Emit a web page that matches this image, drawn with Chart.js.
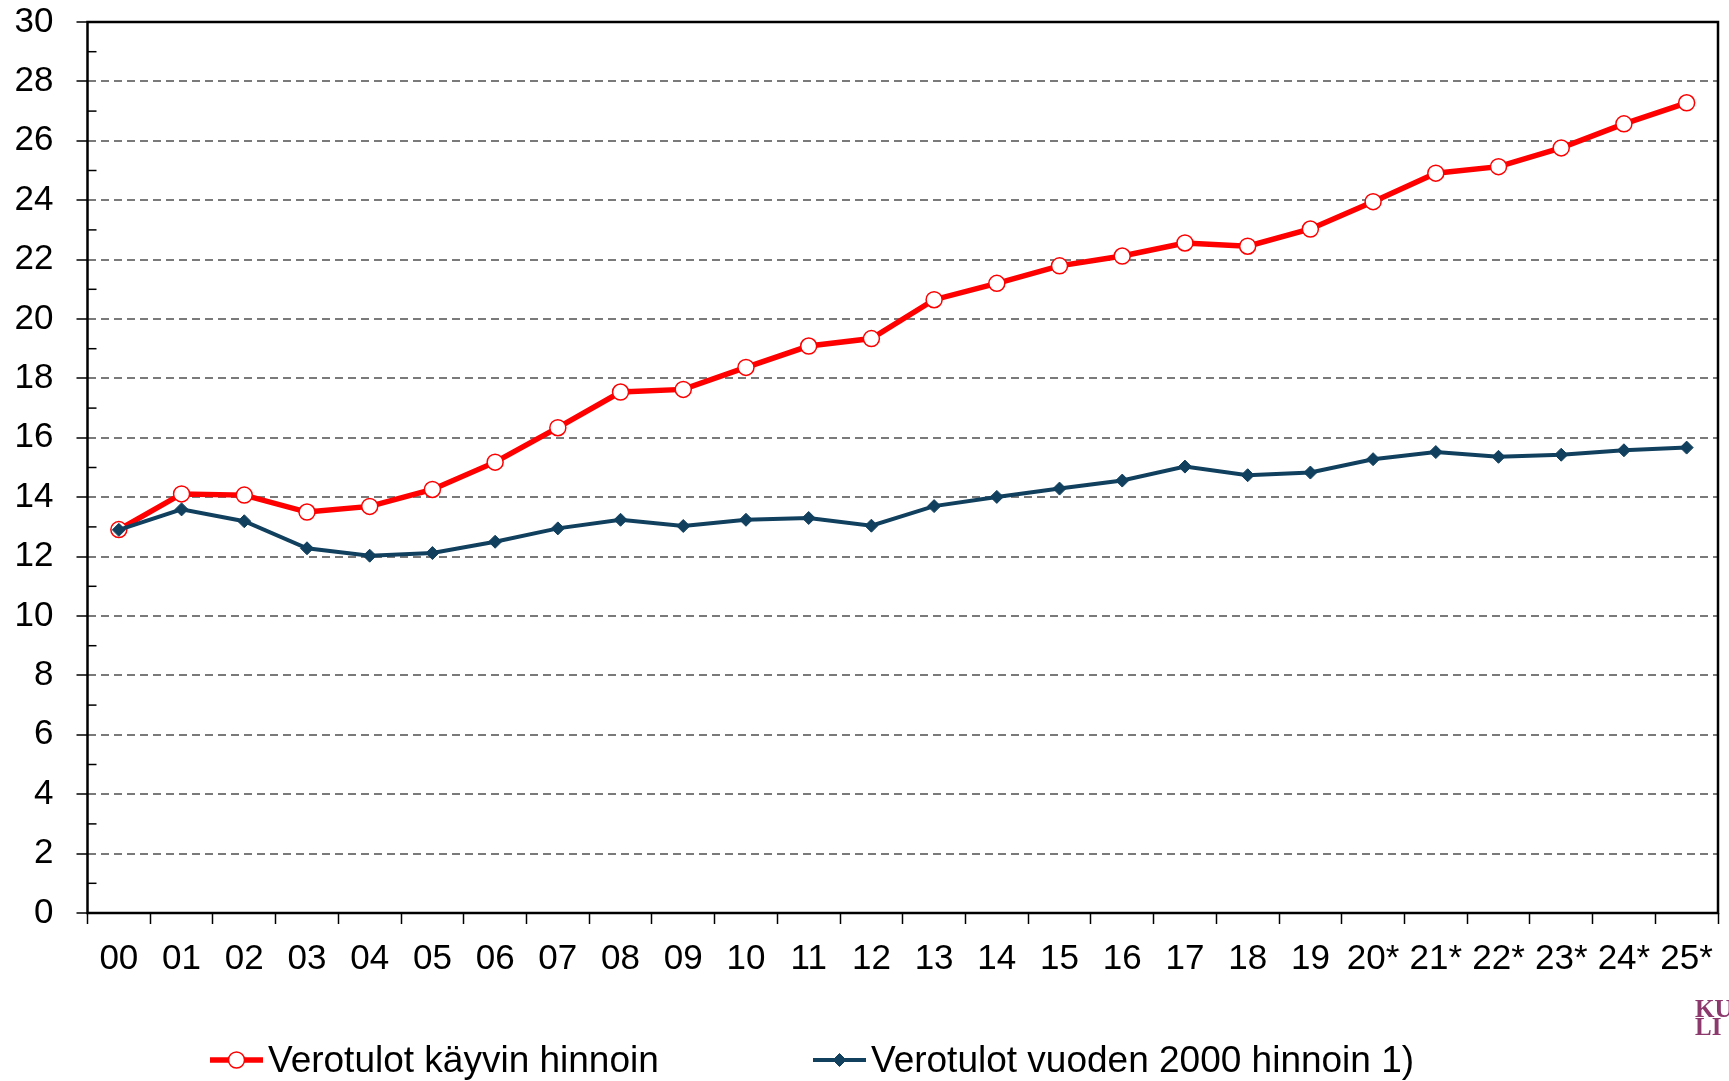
<!DOCTYPE html>
<html><head><meta charset="utf-8">
<script src="https://cdn.jsdelivr.net/npm/chart.js@4"></script>
<style>html,body{margin:0;padding:0;background:#fff;overflow:hidden}canvas{display:block}</style>
</head><body>
<canvas id="c" width="1729" height="1081"></canvas>
<script>
const categories = ['00','01','02','03','04','05','06','07','08','09','10','11','12','13','14','15','16','17','18','19','20*','21*','22*','23*','24*','25*'];
const currentPrices = [12.91, 14.11, 14.07, 13.50, 13.69, 14.26, 15.18, 16.34, 17.54, 17.63, 18.37, 19.09, 19.34, 20.65, 21.20, 21.79, 22.12, 22.56, 22.45, 23.03, 23.95, 24.91, 25.13, 25.76, 26.57, 27.28];
const prices2000 = [12.90, 13.59, 13.19, 12.28, 12.03, 12.12, 12.50, 12.95, 13.24, 13.03, 13.24, 13.30, 13.04, 13.70, 14.01, 14.29, 14.56, 15.03, 14.74, 14.83, 15.28, 15.52, 15.36, 15.43, 15.58, 15.67];
const seriesLabels = ['Verotulot käyvin hinnoin', 'Verotulot vuoden 2000 hinnoin 1)'];
const yMin = 0, yMax = 30, yStep = 2;
const logoLines = ['KU', 'LI'];

const RED = '#ff0000', BLUE = '#11405f', FONT = '"Liberation Sans", Arial, sans-serif';

const extras = {
  id: 'extras',
  beforeDatasetsDraw(chart) {
    const {ctx, chartArea: a, scales: {y}} = chart;
    ctx.save();
    ctx.strokeStyle = '#000';
    ctx.lineWidth = 1.5;
    for (let v = yMin + 1; v < yMax; v += 2) {
      const py = y.getPixelForValue(v);
      ctx.beginPath(); ctx.moveTo(a.left, py); ctx.lineTo(a.left + 9, py); ctx.stroke();
    }
    ctx.lineWidth = 2.5;
    ctx.strokeRect(a.left, a.top, a.right - a.left, a.bottom - a.top);
    ctx.restore();
  },
  afterDraw(chart) {
    const {ctx} = chart;
    const items = [
      {label: seriesLabels[0], color: RED, lw: 5.5, x0: 210, x1: 263, style: 'circle', r: 8, bg: '#fff', bw: 1.5},
      {label: seriesLabels[1], color: BLUE, lw: 4, x0: 813, x1: 866, style: 'rectRot', r: 6.5, bg: BLUE, bw: 1}
    ];
    const ly = 1060;
    ctx.save();
    items.forEach(it => {
      ctx.strokeStyle = it.color; ctx.lineWidth = it.lw;
      ctx.beginPath(); ctx.moveTo(it.x0, ly); ctx.lineTo(it.x1, ly); ctx.stroke();
      ctx.fillStyle = it.bg; ctx.strokeStyle = it.color; ctx.lineWidth = it.bw;
      Chart.helpers.drawPoint(ctx, {pointStyle: it.style, radius: it.r, borderWidth: it.bw}, (it.x0 + it.x1) / 2, ly);
      ctx.fillStyle = '#000';
      ctx.font = '37px ' + FONT;
      ctx.textBaseline = 'alphabetic';
      ctx.textAlign = 'left';
      ctx.fillText(it.label, it.x1 + 5, 1071.5);
    });
    ctx.fillStyle = '#8c3a6e';
    ctx.font = 'bold 25px "Liberation Serif", "DejaVu Serif", serif';
    ctx.fillText(logoLines[0], 1695, 1016.5);
    ctx.fillText(logoLines[1], 1695, 1035);
    ctx.restore();
  }
};

new Chart(document.getElementById('c'), {
  type: 'line',
  data: {
    labels: categories,
    datasets: [
      {label: seriesLabels[0], data: currentPrices, order: 1, borderColor: RED, borderWidth: 5.5,
       pointRadius: 8, pointHoverRadius: 8, pointBackgroundColor: '#fff', pointBorderColor: RED, pointBorderWidth: 1.5, tension: 0},
      {label: seriesLabels[1], data: prices2000, order: 0, borderColor: BLUE, borderWidth: 4,
       pointStyle: 'rectRot', pointRadius: 6.5, pointHoverRadius: 6.5, pointBackgroundColor: BLUE, pointBorderColor: BLUE, pointBorderWidth: 1, tension: 0}
    ]
  },
  options: {
    responsive: false, animation: false, devicePixelRatio: 1,
    layout: {padding: {top: 22, right: 11, left: 0, bottom: 0}},
    plugins: {legend: {display: false}, tooltip: {enabled: false}},
    scales: {
      x: {
        offset: true,
        grid: {offset: true, drawOnChartArea: false, drawTicks: true, tickLength: 11, tickColor: '#000', tickWidth: 1.5},
        border: {display: false},
        ticks: {color: '#000', font: {family: FONT, size: 35}, padding: 14, maxRotation: 0, autoSkip: false},
        afterFit(s) { s.height = 168; s.paddingLeft = 0; s.paddingRight = 0; }
      },
      y: {
        min: yMin, max: yMax,
        grid: {
          color: c => (c.tick && (c.tick.value === yMin || c.tick.value === yMax)) ? 'rgba(0,0,0,0)' : '#7a7a7a',
          lineWidth: 2, drawTicks: true, tickLength: 11, tickColor: '#000', tickWidth: 1.5, tickBorderDash: []
        },
        border: {display: false, dash: [8, 5]},
        ticks: {stepSize: yStep, color: '#000', font: {family: FONT, size: 35}, padding: 23},
        afterFit(s) { s.width = 87.5; s.paddingTop = 0; s.paddingBottom = 0; }
      }
    }
  },
  plugins: [extras]
});
</script>
</body></html>
